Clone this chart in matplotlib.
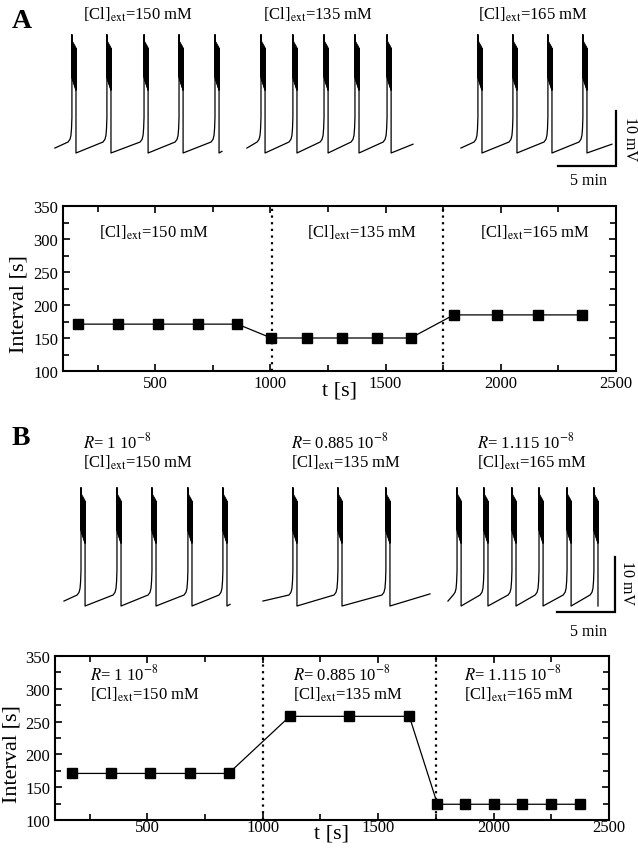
import matplotlib
matplotlib.use('Agg')
import matplotlib.pyplot as plt
from matplotlib.ticker import MultipleLocator

plt.rcParams['font.family'] = ['Liberation Serif', 'DejaVu Serif']
plt.rcParams['mathtext.fontset'] = 'stix'

# --- interval plots ---
a_t = [165, 339, 513, 687, 857, 1004, 1157, 1309, 1461, 1609, 1796, 1983, 2161, 2352]
a_int = [171, 171, 171, 171, 171, 150, 150, 150, 150, 150, 185, 185, 185, 185]
a_switch = [1005, 1750]

b_t = [174, 343, 513, 683, 852, 1117, 1374, 1635, 1757, 1878, 2000, 2122, 2248, 2374]
b_int = [171, 171, 171, 171, 171, 258, 258, 258, 124, 124, 124, 124, 124, 124]
b_switch = [1000, 1752]

# --- voltage traces: (start s, start mV, spike times s, end s, end mV) ---
a_traces = [
    (284, 0.9, [372, 553, 745, 926, 1112], 1148, 0.3),
    (1277, 0.9, [1350, 1515, 1676, 1836, 2002], 2136, 1.6),
    (2384, 0.9, [2472, 2653, 2834, 3015], 3165, 1.6),
]
b_traces = [
    (331, 0.9, [419, 605, 786, 972, 1153], 1190, 0.3),
    (1360, 0.9, [1515, 1748, 1996], 2224, 2.2),
    (2317, 0.9, [2364, 2503, 2648, 2788, 2933, 3072], 3093, 0.0),
]

a_labels = [r'[Cl]$_{\rm ext}$=150 mM', r'[Cl]$_{\rm ext}$=135 mM', r'[Cl]$_{\rm ext}$=165 mM']
b_r_labels = [r'$R$= 1 10$^{-8}$', r'$R$= 0.885 10$^{-8}$', r'$R$= 1.115 10$^{-8}$']

# spike shape (relative to upstroke time, mV above trough)
UP_T = [-20, -10, -5, -2, 0, 0]
UP_V = [2.0, 2.5, 3.2, 4.5, 6.5, 21.5]
BURST = 21

W, H = 638, 853
fig = plt.figure(figsize=(W / 100, H / 100), dpi=100)


def fx(px):
    return px / W


def fy(py):
    return 1 - py / H


def build(start, v0, spikes, end, v_end):
    t, v = [start], [v0]
    for s in spikes:
        t += [s + d for d in UP_T]
        v += UP_V
        t += [s, s + BURST, s + BURST, s + BURST, s + BURST]
        v += [14.0, 11.5, 19.0, 11.5, 0.0]
    if end > t[-1] + 1:
        t.append(end)
        v.append(v_end)
    return t, v


def draw_traces(top_px, bottom_px, trough_px, traces, bar_x, bar_y):
    mv = 5.5  # px per mV
    ax = fig.add_axes([0, fy(bottom_px), 1, (bottom_px - top_px) / H])
    ax.set_xlim(0, 3300)
    ax.set_ylim((trough_px - bottom_px) / mv, (trough_px - top_px) / mv)
    ax.axis('off')
    for start, v0, spikes, end, v_end in traces:
        t, v = build(start, v0, spikes, end, v_end)
        ax.plot(t, v, color='black', lw=0.9)
        for s in spikes:
            ax.fill([s, s, s + BURST, s + BURST], [20.5, 13.5, 11.3, 19.2],
                    color='black', lw=0.5)
    # scale bar 5 min x 10 mV
    ax.plot([bar_x - 300, bar_x, bar_x], [bar_y, bar_y, bar_y + 10],
            color='black', lw=1.6, solid_joinstyle='miter')
    return ax


def draw_interval(rect, t, iv, switches, xpad):
    ax = fig.add_axes(rect)
    ax.plot(t, iv, color='black', lw=0.9, marker='s', markersize=7.5,
            markerfacecolor='black', markeredgecolor='black')
    for s in switches:
        ax.axvline(s, color='black', ls=(0, (1, 2)), lw=1.6)
    ax.set_xlim(100, 2500)
    ax.set_ylim(100, 350)
    ax.xaxis.set_major_locator(MultipleLocator(500))
    ax.xaxis.set_minor_locator(MultipleLocator(250))
    ax.yaxis.set_major_locator(MultipleLocator(50))
    ax.yaxis.set_minor_locator(MultipleLocator(25))
    ax.set_xticks([500, 1000, 1500, 2000, 2500])
    ax.tick_params(which='both', direction='in', top=True, right=True,
                   labelsize=12, width=1.2)
    ax.tick_params(which='major', length=5)
    ax.tick_params(which='minor', length=4)
    ax.tick_params(axis='x', pad=xpad)
    ax.tick_params(axis='y', pad=3.5)
    for sp in ax.spines.values():
        sp.set_linewidth(1.5)
    ax.set_xlabel('t [s]', fontsize=16)
    ax.set_ylabel('Interval [s]', fontsize=16)
    return ax


def txt(px, py, s, size=12, **kw):
    fig.text(fx(px), fy(py), s, fontsize=size, va='baseline', **kw)


# ---------------- panel A ----------------
draw_traces(30, 190, 154, a_traces, 3186, -2.36)
for x, s in zip([83, 263, 478], a_labels):
    txt(x, 20, s)
txt(12, 28, 'A', size=20, fontweight='bold')
fig.text(fx(630), fy(139), '10 mV', fontsize=11.5, rotation=270, ha='center', va='center')
fig.text(fx(588), fy(181), '5 min', fontsize=11.5, ha='center', va='center')

axA = draw_interval([fx(63), fy(372), (616 - 63) / W, (372 - 207) / H], a_t, a_int, a_switch, 3.2)
axA.xaxis.set_label_coords(0.5, -0.06)
axA.yaxis.set_label_coords(-0.062, 0.41)
for x, s in zip([99, 307, 480], a_labels):
    txt(x, 238, s)

# ---------------- panel B ----------------
draw_traces(475, 635, 607, b_traces, 3181, -1.09)
for x, r, s in zip([83, 291, 477], b_r_labels, a_labels):
    txt(x, 448, r)
    txt(x, 468, s)
txt(12, 445, 'B', size=20, fontweight='bold')
fig.text(fx(627), fy(583), '10 mV', fontsize=11.5, rotation=270, ha='center', va='center')
fig.text(fx(588), fy(632), '5 min', fontsize=11.5, ha='center', va='center')

axB = draw_interval([fx(55), fy(821), (609 - 55) / W, (821 - 657) / H], b_t, b_int, b_switch, -1)
axB.xaxis.set_label_coords(0.5, -0.02)
axB.yaxis.set_label_coords(-0.06, 0.41)
for x, r, s in zip([90, 293, 464], b_r_labels, a_labels):
    txt(x, 680, r)
    txt(x, 700, s)

fig.savefig('out.png', dpi=100)
